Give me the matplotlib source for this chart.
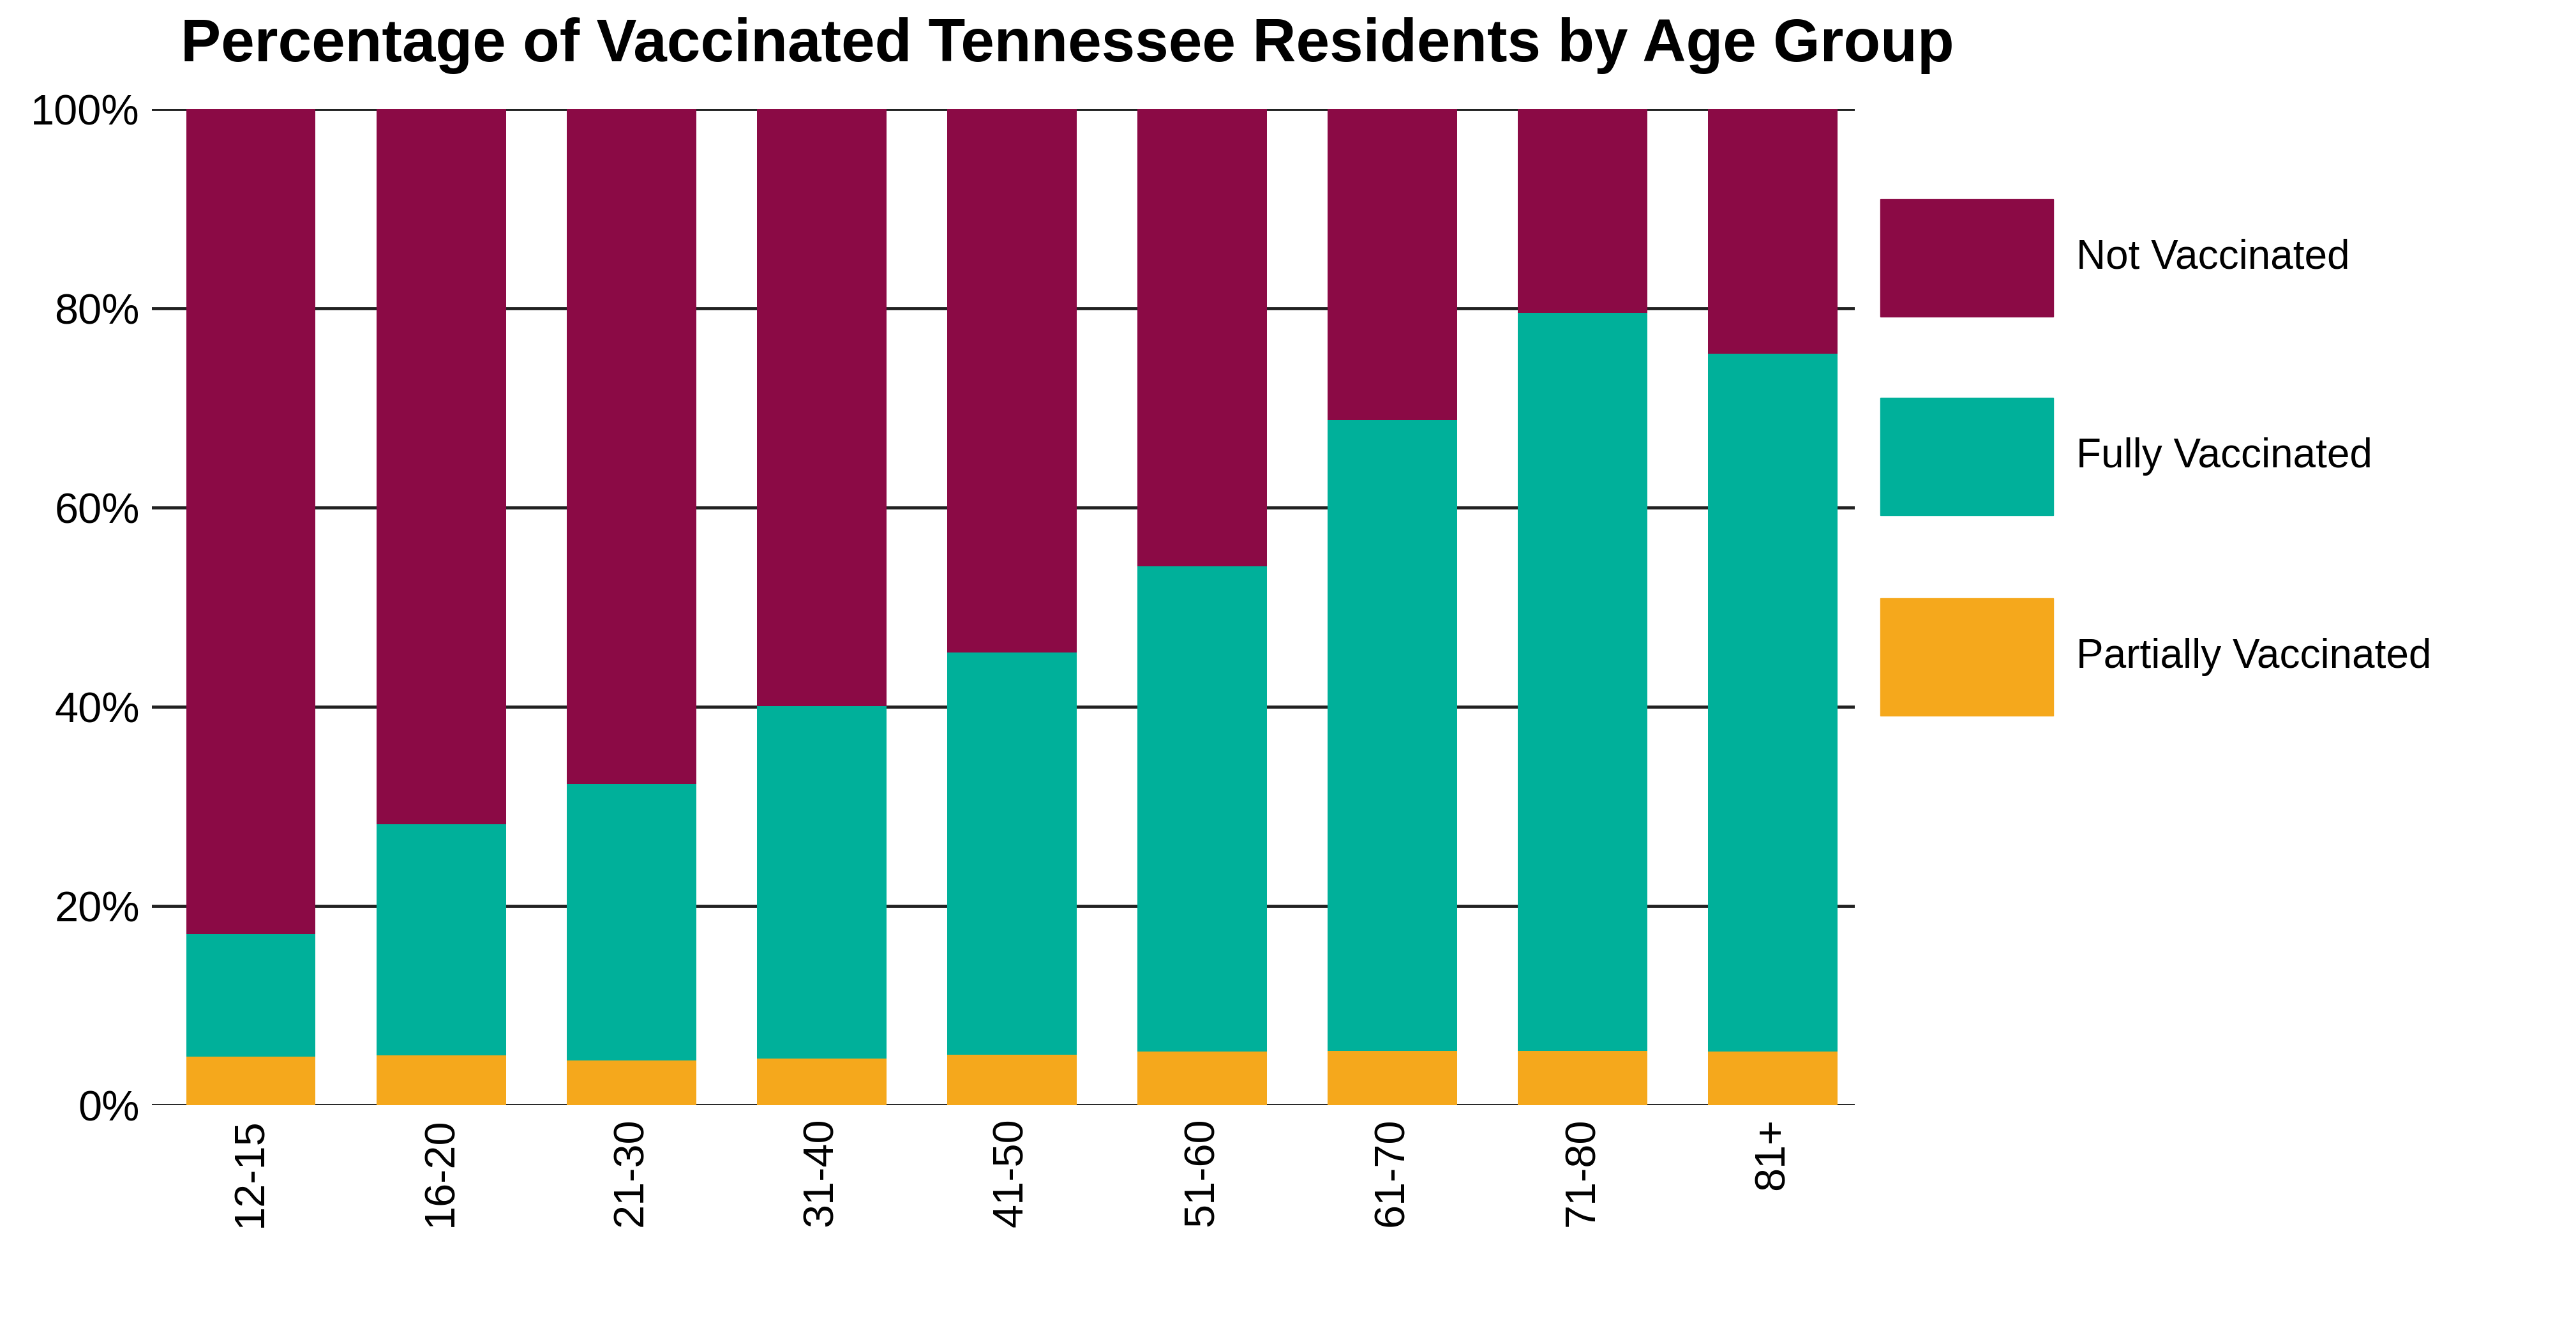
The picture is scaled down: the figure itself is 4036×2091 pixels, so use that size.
import matplotlib
matplotlib.use("Agg")
import matplotlib.pyplot as plt
from matplotlib.patches import Rectangle

groups = ["12-15","16-20","21-30","31-40","41-50","51-60","61-70","71-80","81+"]
partial = [4.9, 5.0, 4.5, 4.7, 5.1, 5.4, 5.5, 5.5, 5.4]
fully_cum = [17.2, 28.2, 32.3, 40.1, 45.5, 54.1, 68.8, 79.6, 75.5]
fully = [c - p for c, p in zip(fully_cum, partial)]
notv = [100 - c for c in fully_cum]

C_NOT, C_FULL, C_PART = "#8B0A45", "#00B09A", "#F5A81C"
plt.rcParams['font.family'] = ['Liberation Sans', 'DejaVu Sans']

fig = plt.figure(figsize=(40.36, 20.91), dpi=100)
ax = fig.add_axes([0.059, 0.172, 0.661, 0.746])
x = range(len(groups))
w = 0.68
ax.bar(x, partial, w, color=C_PART, zorder=2)
ax.bar(x, fully, w, bottom=partial, color=C_FULL, zorder=2)
ax.bar(x, notv, w, bottom=fully_cum, color=C_NOT, zorder=2)
ax.set_ylim(0, 100)
ax.set_xlim(-0.52, 8.43)
ax.set_yticks(range(0, 101, 20))
ax.set_yticklabels([f"{v}%" for v in range(0, 101, 20)], fontsize=48)
ax.set_xticks(list(x))
ax.set_xticklabels(groups, rotation=90, fontsize=48)
ax.tick_params(length=0, pad=14)
for v in range(0, 101, 20):
    ax.axhline(v, color="#222222", lw=3.5, zorder=1)
for s in ax.spines.values():
    s.set_visible(False)

fig.text(0.07, 0.966, "Percentage of Vaccinated Tennessee Residents by Age Group",
         fontsize=68, fontweight="bold", va="center", ha="left")

items = [("Not Vaccinated", C_NOT, 0.807), ("Fully Vaccinated", C_FULL, 0.658), ("Partially Vaccinated", C_PART, 0.508)]
for label, col, yc in items:
    fig.patches.append(Rectangle((0.730, yc - 0.044), 0.067, 0.088, transform=fig.transFigure, color=col))
    fig.text(0.806, yc, label, fontsize=46, va="center", ha="left", stretch="condensed")

fig.savefig("out.png", dpi=100, facecolor="white")
